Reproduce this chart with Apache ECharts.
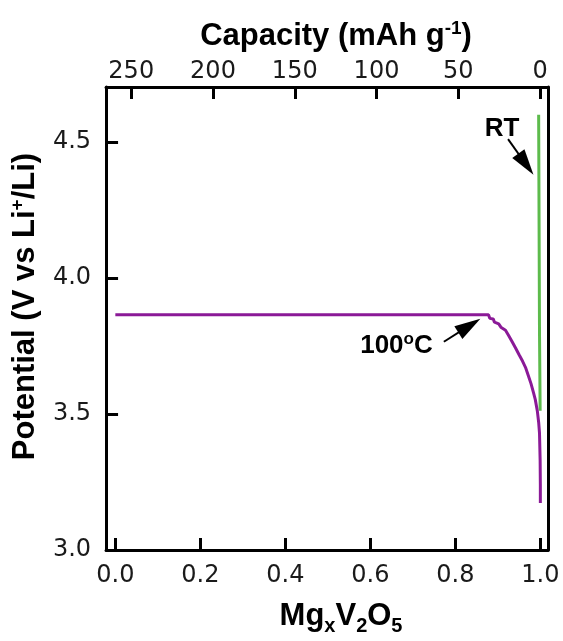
<!DOCTYPE html>
<html><head><meta charset="utf-8">
<script src="https://cdn.jsdelivr.net/npm/echarts@6/dist/echarts.min.js"></script>
<style>html,body{margin:0;padding:0;background:#fff}#c{width:563px;height:641px}</style>
</head><body><div id="c"></div>
<script>
// 100 °C discharge curve
const mgx100 = [0, 0.878, 0.881, 0.889, 0.892, 0.902, 0.908, 0.918, 0.925, 0.933, 0.942, 0.950, 0.958, 0.965, 0.972, 0.978, 0.984, 0.988, 0.993, 0.996, 0.998, 0.9995, 1.0, 1.0];
const v100   = [3.865, 3.865, 3.852, 3.850, 3.838, 3.832, 3.818, 3.808, 3.790, 3.768, 3.742, 3.718, 3.695, 3.672, 3.640, 3.612, 3.578, 3.554, 3.510, 3.470, 3.430, 3.330, 3.240, 3.173];
// room temperature curve
const mgxRT = [0.9995, 0.998, 0.997, 0.996];
const vRT   = [3.512, 3.800, 4.200, 4.601];
// tick values
const xTicks = [0, 0.2, 0.4, 0.6, 0.8, 1.0];
const capTicks = [0, 50, 100, 150, 200, 250];
const yTicks = [3.0, 3.5, 4.0, 4.5];
// annotations: [x, V]
const rtLabelAt = [0.910, 4.550];
const hotLabelAt = [0.748, 3.752];
const rtArrow = [[0.924, 4.511], [0.966, 4.419]];
const hotArrow = [[0.773, 3.766], [0.833, 3.825]];

const pair = (xs, ys) => xs.map((x, i) => [x, ys[i]]);
const tickFont = {fontFamily: 'DejaVu Sans', fontSize: 24, color: '#1a1a1a'};
const titleFont = {fontFamily: 'Liberation Sans', fontWeight: 'bold', fontSize: 31, color: '#000'};
const axLine = {show: true, onZero: false, lineStyle: {color: '#000', width: 3}};
const axTick = (vals) => ({show: true, inside: true, length: 12, customValues: vals, lineStyle: {color: '#000', width: 3}});

const chart = echarts.init(document.getElementById('c'), null, {renderer: 'canvas'});
chart.setOption({
  animation: false,
  backgroundColor: '#fff',
  grid: {left: 104, right: 15, top: 87, bottom: 85, containLabel: false},
  xAxis: [
    {
      type: 'value', position: 'bottom', min: -0.0218, max: 1.018,
      axisLine: axLine, axisTick: axTick(xTicks), splitLine: {show: false},
      axisLabel: Object.assign({customValues: xTicks, margin: 14, formatter: v => v.toFixed(1)}, tickFont),
      name: 'Mg{sub|x}V{sub|2}O{sub|5}', nameLocation: 'middle', nameGap: 46,
      nameTextStyle: Object.assign({lineHeight: 40, padding: [0, 0, 0, 28],
        rich: {sub: {fontFamily: 'Liberation Sans', fontWeight: 'bold', fontSize: 20, lineHeight: 20, verticalAlign: 'bottom'}}}, titleFont)
    },
    {
      type: 'value', position: 'top', inverse: true, min: -4.87, max: 265.4,
      axisLine: axLine, axisTick: axTick(capTicks), splitLine: {show: false},
      axisLabel: Object.assign({customValues: capTicks, margin: 3, formatter: v => String(Math.round(v))}, tickFont),
      name: 'Capacity (mAh g{sup|-1})', nameLocation: 'middle', nameGap: 34,
      nameTextStyle: Object.assign({lineHeight: 34, padding: [0, 0, 0, 18],
        rich: {sup: {fontFamily: 'Liberation Sans', fontWeight: 'bold', fontSize: 19, lineHeight: 19, verticalAlign: 'top'}}}, titleFont)
    }
  ],
  yAxis: [
    {
      type: 'value', position: 'left', min: 3.0, max: 4.703, interval: 0.5,
      axisLine: axLine, axisTick: axTick(yTicks), splitLine: {show: false},
      axisLabel: Object.assign({customValues: yTicks, margin: 15, formatter: v => v.toFixed(1)}, tickFont),
      name: 'Potential (V vs Li{sup|+}/Li)', nameLocation: 'middle', nameGap: 64,
      nameTextStyle: Object.assign({lineHeight: 34, padding: [0, 0, 0, 24],
        rich: {sup: {fontFamily: 'Liberation Sans', fontWeight: 'bold', fontSize: 19, lineHeight: 19, verticalAlign: 'top'}}}, titleFont)
    },
    {
      type: 'value', position: 'right', min: 3.0, max: 4.703,
      axisLine: axLine, axisTick: {show: false}, axisLabel: {show: false}, splitLine: {show: false}
    }
  ],
  series: [
    {
      name: '100C', type: 'line', xAxisIndex: 0, yAxisIndex: 0,
      data: pair(mgx100, v100), showSymbol: false, symbol: 'none',
      lineStyle: {color: '#8B1A97', width: 3}, z: 3,
      markPoint: {
        silent: true, symbol: 'circle', symbolSize: 1, itemStyle: {color: 'rgba(0,0,0,0)'},
        data: [
          {coord: hotLabelAt, label: {show: true, position: 'left', distance: 0,
            formatter: '100{sup|o}C', fontFamily: 'Liberation Sans', fontWeight: 'bold', fontSize: 26, color: '#000', lineHeight: 30,
            rich: {sup: {fontFamily: 'Liberation Sans', fontWeight: 'bold', fontSize: 17, lineHeight: 17, verticalAlign: 'top'}}}},
          {coord: rtLabelAt, label: {show: true, position: 'inside', formatter: 'RT',
            fontFamily: 'Liberation Sans', fontWeight: 'bold', fontSize: 26, color: '#000'}}
        ]
      },
      markLine: {
        silent: true, animation: false, label: {show: false},
        lineStyle: {type: 'solid', color: '#000', width: 2},
        emphasis: {disabled: true},
        data: [
          [{coord: rtArrow[0], symbol: 'none'}, {coord: rtArrow[1], symbol: 'triangle', symbolSize: [15, 26]}],
          [{coord: hotArrow[0], symbol: 'none'}, {coord: hotArrow[1], symbol: 'triangle', symbolSize: [15, 26]}]
        ]
      }
    },
    {
      name: 'RT', type: 'line', xAxisIndex: 0, yAxisIndex: 0,
      data: pair(mgxRT, vRT), showSymbol: false, symbol: 'none',
      lineStyle: {color: '#5DBB4C', width: 3}, z: 2
    }
  ]
});
</script>
</body></html>
